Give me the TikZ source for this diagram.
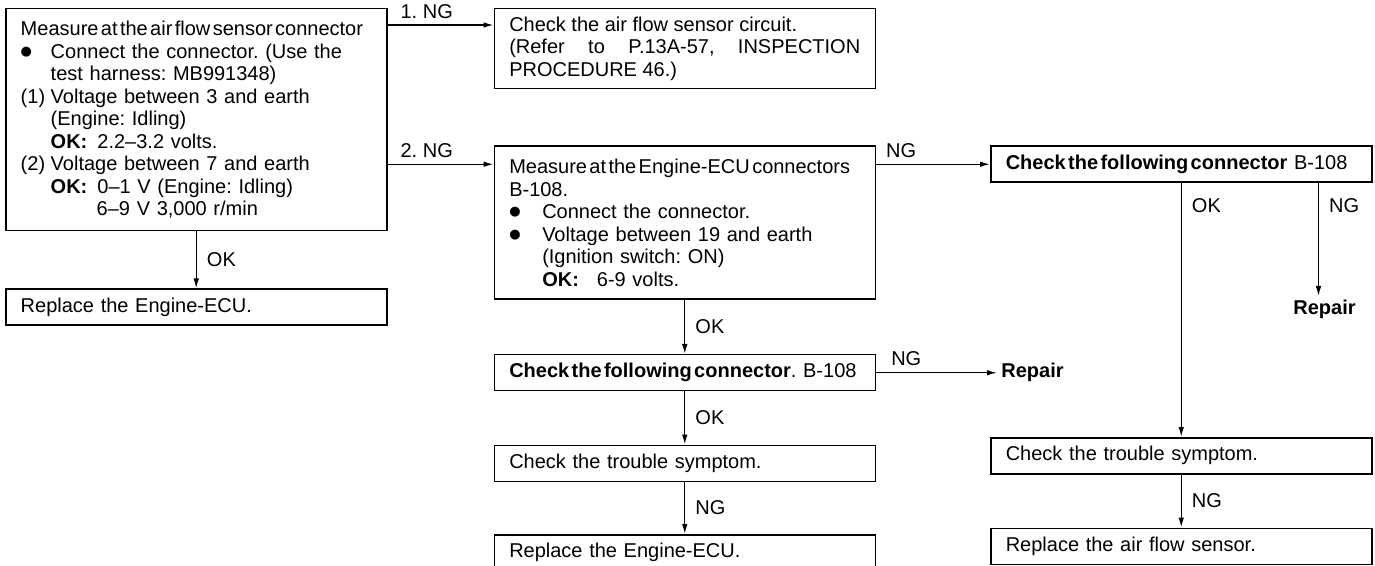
\documentclass[tikz,border=0pt]{standalone}
\usepackage{fontspec}
\setmainfont{Liberation Sans}
\newfontfamily\symfont{DejaVu Sans}
\usetikzlibrary{positioning,arrows.meta}
\frenchspacing
\newcommand{\hitem}[3][15pt]{\makebox[#1][l]{#2}#3}
\newcommand{\tightsp}[1]{{\spaceskip=.12em\relax #1}}
\newcommand{\bigdot}{\raisebox{1.4pt}{\symfont\fontsize{6.5}{6.5}\selectfont ●}}

\begin{document}
\begin{tikzpicture}[node distance=27pt, auto,
        box/.style={rectangle, draw, line width=0.75pt, text width=175.5pt, inner xsep=7.5pt, inner ysep=3pt, align=left, minimum height=18pt, font=\fontsize{10}{11.25}\selectfont},
        lbl/.style={inner sep=1pt, font=\fontsize{10}{11}\selectfont},
        rep/.style={inner sep=2pt, font=\fontsize{10}{11}\selectfont\bfseries},
        arr/.style={-{Latex[length=5pt,width=2.8pt]}, line width=0.7pt}]

        \useasboundingbox (0,0) rectangle (687.5pt,-283pt);

        \node[box, anchor=north west, minimum height=111pt] (airmeas) at (2.5pt,-4pt) {\tightsp{Measure at the air flow sensor connector}\\
            \hitem{\bigdot}{Connect the connector. (Use the}\\
            \hitem{}{test harness: MB991348)}\\
            \hitem{(1)}{Voltage between 3 and earth}\\
            \hitem{}{(Engine: Idling)}\\
            \hitem{}{\textbf{OK:}\hspace{5pt}2.2–3.2 volts.}\\
            \hitem{(2)}{Voltage between 7 and earth}\\
            \hitem{}{\textbf{OK:}\hspace{5pt}0–1 V (Engine: Idling)}\\
            \hitem{}{\hspace*{23pt}6–9 V 3,000 r/min}};
        \node[box, right=53pt of airmeas.north east, anchor=north west, align=justify, minimum height=40pt] (circuit) {Check the air flow sensor circuit.\newline (Refer to P.13A-57, INSPECTION\linebreak PROCEDURE 46.)};
        \node[box, below=28pt of circuit, minimum height=76.5pt] (ecumeas) {\tightsp{Measure at the Engine-ECU connectors}\\
            B-108.\\
            \hitem[16.5pt]{\bigdot}{Connect the connector.}\\
            \hitem[16.5pt]{\bigdot}{Voltage between 19 and earth}\\
            \hitem[16.5pt]{}{(Ignition switch: ON)}\\
            \hitem[16.5pt]{}{\textbf{OK:}\hspace{9pt}6-9 volts.}};
        \node[box, right=57pt of ecumeas.north east, anchor=north west] (conn1) {\tightsp{\textbf{Check the following connector}} B-108};
        \node[box, below=28.5pt of airmeas] (ecu1) {Replace the Engine-ECU.};
        \node[box, below=of ecumeas] (conn2) {\tightsp{\textbf{Check the following connector}}. B-108};
        \node[box, below=26.5pt of conn2] (symp1) {Check the trouble symptom.};
        \node[box, below=26pt of symp1] (ecu2) {Replace the Engine-ECU.};
        \node[box, below=127pt of conn1] (symp2) {Check the trouble symptom.};
        \node[box, below=26.5pt of symp2] (sensor) {Replace the air flow sensor.};
        \node[rep, right=60.5pt of conn2] (repair1) {Repair};
        \node[rep, anchor=north] (repair2) at ([xshift=-24pt,yshift=-56.5pt]conn1.south east) {Repair};
        \coordinate (ngfoot) at ([xshift=-27pt]conn1.south east);

        \draw[arr] ([yshift=-8.5pt]airmeas.north east) -- ([yshift=-8.5pt]circuit.north west) node[lbl, above=2pt, pos=.37] {1. NG};
        \draw[arr] (airmeas.east |- conn1.west) -- (ecumeas.west |- conn1.west) node[lbl, above=2pt, pos=.37] {2. NG};
        \draw[arr] (ecumeas.east |- conn1.west) -- (conn1.west) node[lbl, above=2pt, pos=.22] {NG};
        \draw[arr] (airmeas) -- (ecu1) node[lbl, right=4pt, midway] {OK};
        \draw[arr] (ecumeas) -- (conn2) node[lbl, right=4pt, midway] {OK};
        \draw[arr] (conn2) -- (symp1) node[lbl, right=4pt, midway] {OK};
        \draw[arr] (symp1) -- (ecu2) node[lbl, right=4pt, midway] {NG};
        \draw[arr] (conn2) -- (repair1) node[lbl, above=2pt, pos=.25] {NG};
        \draw[arr] (conn1) -- (symp2) node[lbl, right=4pt, pos=.09] {OK};
        \draw[arr] (ngfoot) -- (ngfoot |- repair2.north) node[lbl, right=4pt, pos=.2] {NG};
        \draw[arr] (symp2) -- (sensor) node[lbl, right=4pt, midway] {NG};
    \end{tikzpicture}
\end{document}
